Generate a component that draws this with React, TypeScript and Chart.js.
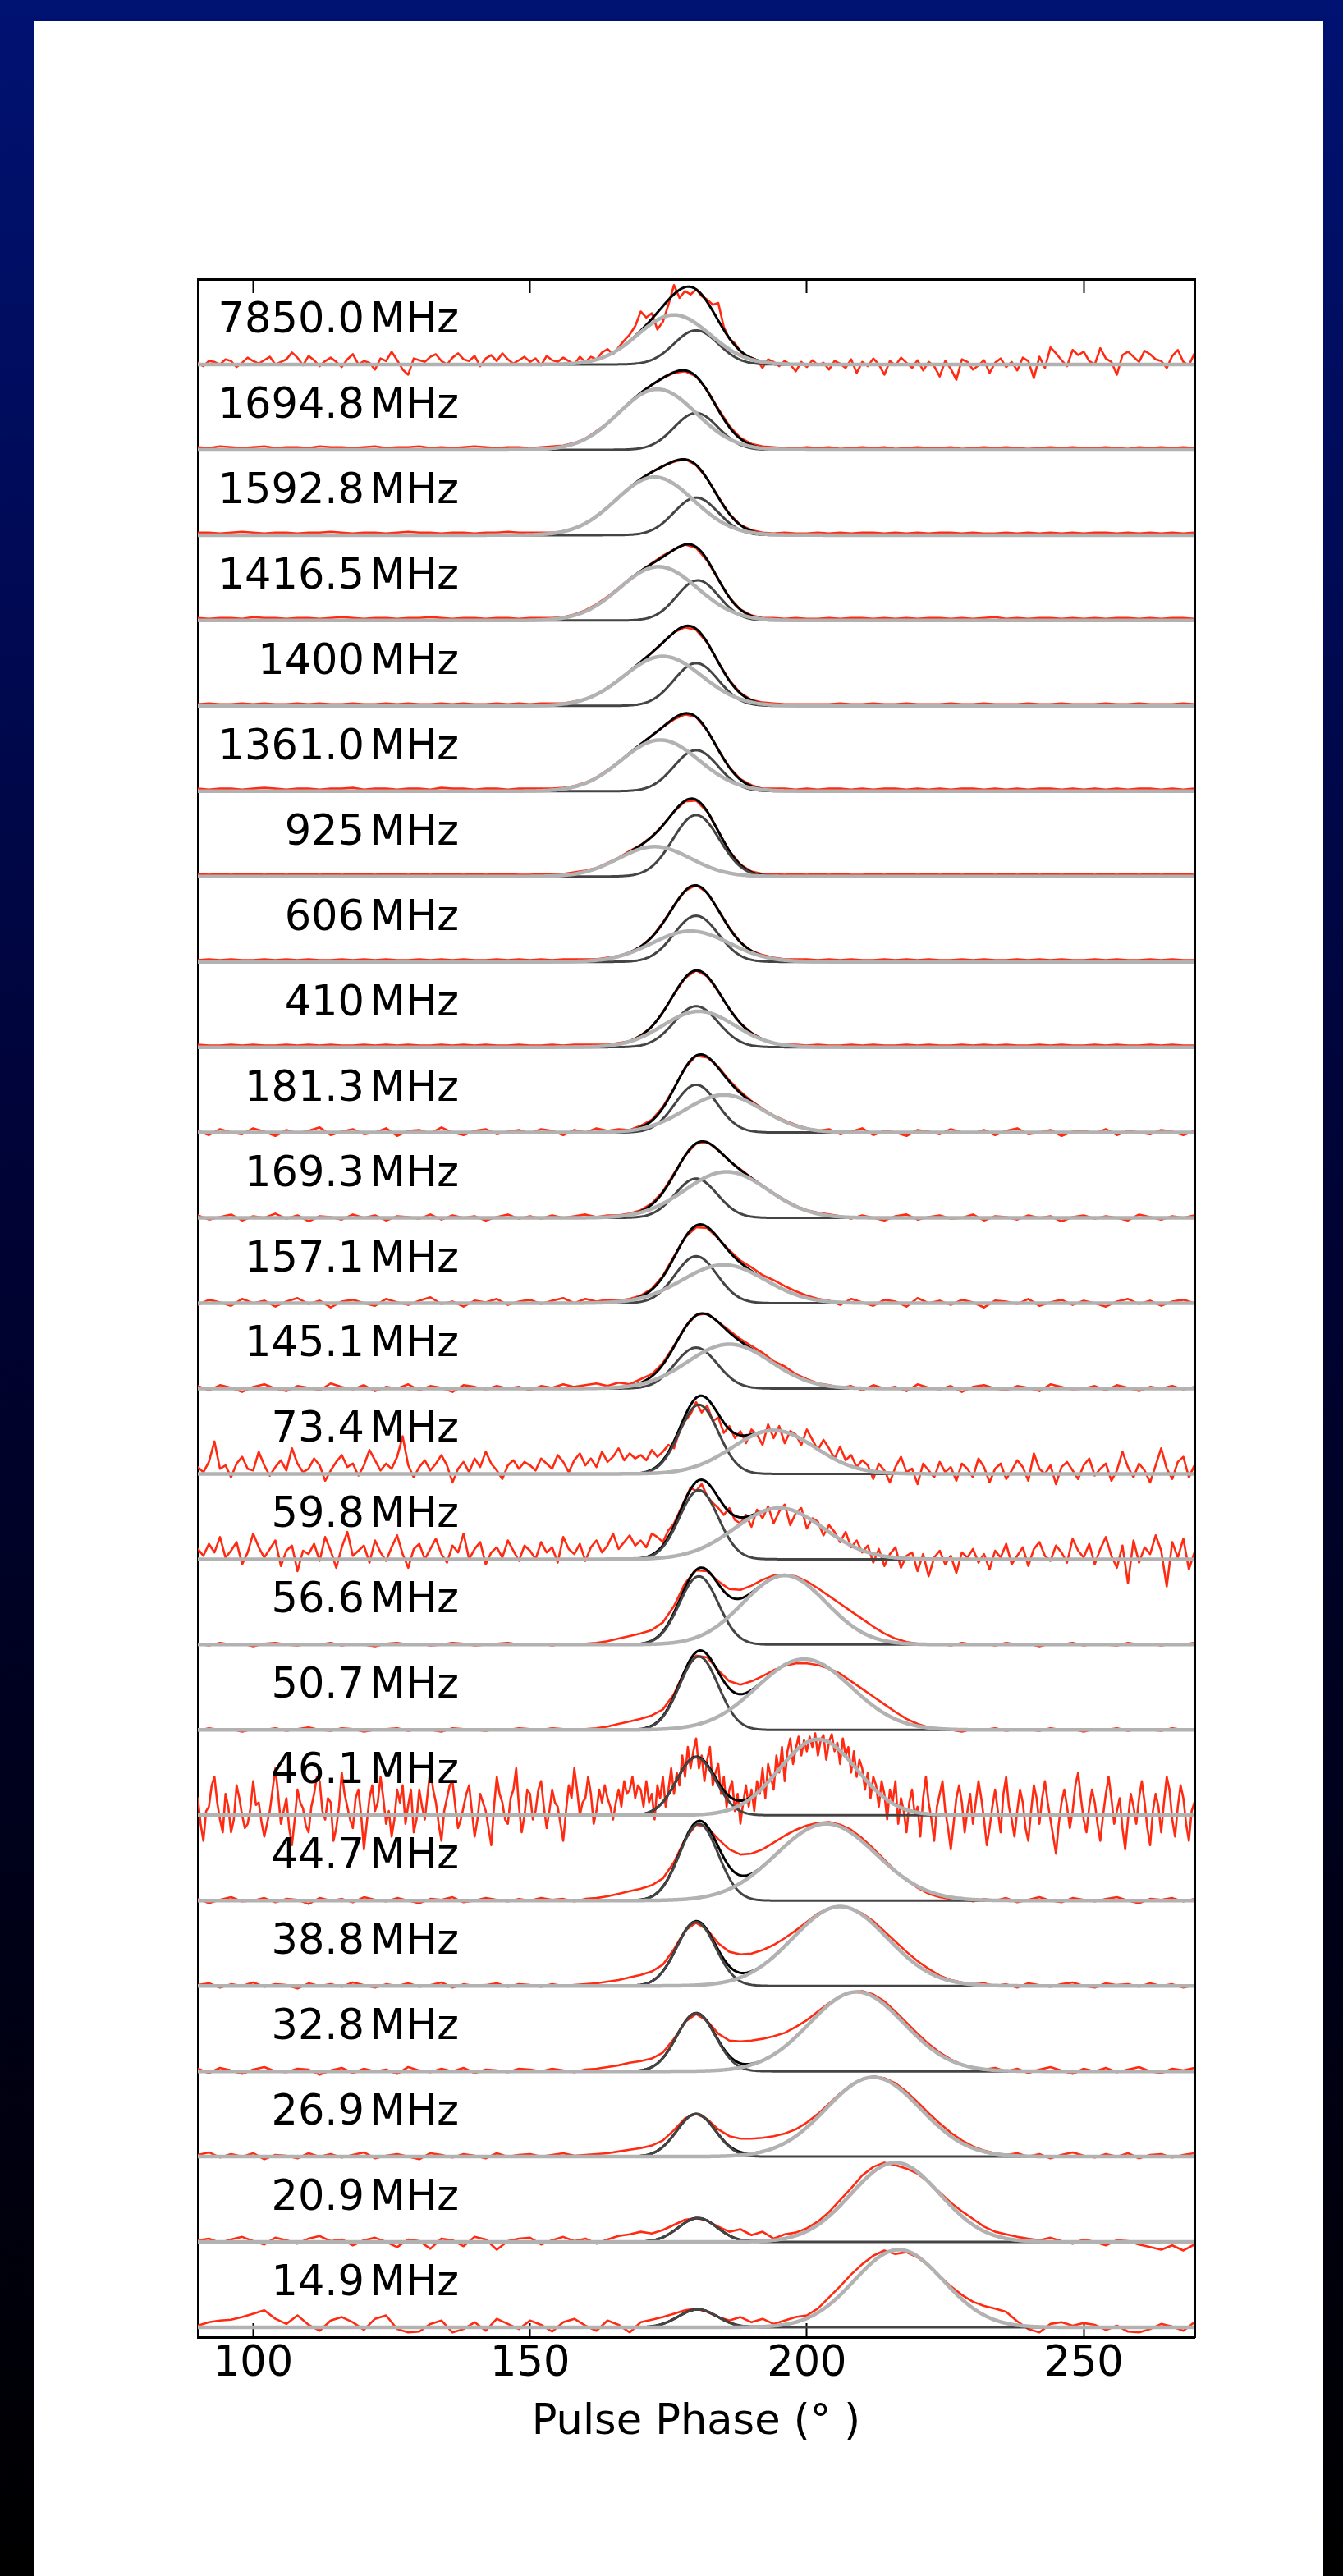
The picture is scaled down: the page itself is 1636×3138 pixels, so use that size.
import React, { useEffect, useRef } from 'react';
import { Chart, registerables } from 'chart.js';

Chart.register(...registerables);

// ---------- axis / labels ----------
const X_MIN = 90;
const X_MAX = 270;
const Y_MIN = -0.115;
const Y_MAX = 24;
const X_TICKS = [100, 150, 200, 250];
const X_TITLE = 'Pulse Phase (° )';

const FREQ_NUM = ['7850.0', '1694.8', '1592.8', '1416.5', '1400', '1361.0', '925', '606', '410', '181.3', '169.3', '157.1', '145.1', '73.4', '59.8', '56.6', '50.7', '46.1', '44.7', '38.8', '32.8', '26.9', '20.9', '14.9'];
const FREQ_UNIT = 'MHz';

// ---------- Gaussian fit components (amplitude in % of panel, centre deg, sigma deg) ----------
const COMP1_AMP = [40, 43, 44, 47, 50, 48, 72, 54, 48, 56, 46, 55, 48, 81, 81, 80, 86, 68, 90, 75, 68, 50, 28, 21];
const COMP1_CEN = [180, 180, 180, 180.3, 180, 180, 180, 180, 180, 180, 180, 180, 180, 180.5, 180.5, 180.5, 180.5, 180, 180.5, 180, 180, 180, 180.3, 180.3];
const COMP1_SIG = [4, 4, 4, 3.8, 4, 4, 4.2, 4, 4, 3.8, 3.8, 3.8, 3.8, 3.5, 3.5, 3.5, 3.5, 3.5, 3.5, 3.5, 3.5, 3.5, 3.5, 3.5];
const COMP2_AMP = [58, 71, 68, 63, 58, 60, 35, 36, 42, 44, 54, 45, 52, 51, 60, 81, 83, 89, 90, 93, 93, 93, 93, 91];
const COMP2_CEN = [176, 173, 172.5, 173.2, 174, 173.5, 172.5, 179, 180.5, 185, 185.5, 185, 186, 194, 195, 196, 199.5, 202, 203.5, 206, 209, 212, 216, 216.6];
const COMP2_SIG = [6.5, 7, 7, 7, 7, 7, 6.5, 7, 6.5, 7, 7.5, 7.5, 7.5, 7.5, 8, 7.5, 8.5, 7, 9, 8.5, 8.5, 8.5, 8, 8];

// ---------- observed profiles (% of panel height), evenly spaced from 90 to 270 deg ----------
const RED_7850_0 = [
  2, -2, 4, 3, 0, 6, 4, -3, 2, 8, 4, 1, 5, 9, 0, 3, 6, 14, 8, -1,
  10, 5, -2, 4, 8, 3, -3, 6, 12, 0, 4, 2, -6, 7, 4, 15, 5, -6, -12, 7,
  5, 3, 9, 12, 4, 0, 8, 13, 6, 4, 10, -2, 7, 11, 4, 13, 6, 1, 5, 9,
  3, 7, -1, 10, 5, 3, 8, 4, 0, 9, 3, 9, 6, 14, 18, 12, 20, 28, 35, 45,
  62, 55, 60, 41, 50, 70, 93, 78, 86, 82, 88, 80, 76, 70, 72, 44, 30, 25, 15, 10,
  8, 5, -4, 6, 3, -2, 4, 0, -8, 3, -3, 5, -1, 2, -6, 4, 1, -4, 6, -10,
  3, -2, 7, 0, -12, 4, -1, 8, 2, -4, 5, -7, 3, -2, -14, 4, -5, -18, 6, 3,
  -6, -1, 5, -10, 2, 7, -3, 3, -7, 8, 4, -16, 9, -4, 20, 13, 5, -2, 17, 11,
  15, 4, 0, 19, 7, 3, -12, 11, 15, 9, 3, 16, 12, 6, 4, -4, 10, 17, 3, -1,
  13,
];
const RED_1694_8 = [
  3, 2, 4, 3, 2, 3, 4, 2, 3, 3, 2, 4, 3, 3, 2, 3, 4, 2, 3, 3, 4, 2, 3, 2, 3, 4, 3, 2, 3, 3,
  2, 3, 4, 5, 8, 13, 22, 31, 43, 56, 66, 76, 84, 90, 92, 86, 70, 48, 28, 14, 7, 4, 3, 2, 2, 3,
  2, 3, 1, 2, 3, 2, 3, 1, 2, 3, 2, 2, 3, 1, 2, 3, 2, 3, 2, 1, 2, 3, 2, 3, 2, 2, 3, 2, 1, 3, 2, 3, 2, 3, 2,
];
const RED_1592_8 = [
  3, 3, 2, 3, 4, 3, 2, 3, 3, 2, 3, 3, 4, 3, 2, 3, 3, 2, 3, 4, 3, 3, 2, 3, 3, 2, 3, 3, 4, 3,
  3, 3, 3, 4, 8, 14, 22, 33, 44, 55, 66, 74, 81, 86, 89, 82, 66, 45, 25, 12, 6, 3, 2, 3, 2, 2,
  3, 2, 3, 2, 3, 3, 2, 3, 2, 3, 2, 3, 3, 2, 3, 2, 2, 3, 2, 3, 2, 3, 2, 3, 2, 3, 3, 2, 3, 2, 3, 2, 3, 2, 3,
];
const RED_1416_5 = [
  3, 2, 3, 3, 2, 4, 3, 3, 2, 3, 3, 2, 3, 4, 3, 2, 3, 3, 2, 3, 3, 4, 3, 2, 3, 3, 2, 3, 3, 2,
  3, 3, 3, 4, 7, 12, 19, 28, 38, 49, 58, 67, 76, 83, 89, 85, 70, 48, 27, 13, 6, 3, 3, 2, 3, 2,
  2, 3, 2, 3, 3, 2, 3, 2, 3, 2, 3, 3, 2, 3, 2, 3, 4, 2, 3, 2, 3, 3, 2, 3, 2, 3, 2, 3, 3, 2, 3, 2, 3, 3, 2,
];
const RED_1400 = [
  2, 3, 2, 2, 3, 2, 3, 2, 2, 3, 2, 3, 2, 2, 3, 2, 2, 3, 2, 3, 2, 2, 3, 2, 3, 2, 2, 3, 2, 3,
  2, 3, 3, 3, 5, 8, 13, 21, 30, 40, 51, 62, 74, 86, 92, 89, 74, 51, 30, 15, 7, 4, 3, 2, 2, 2,
  2, 2, 3, 2, 2, 3, 2, 2, 3, 2, 2, 2, 3, 2, 2, 3, 2, 2, 2, 3, 2, 2, 3, 2, 2, 2, 3, 2, 2, 3, 2, 2, 2, 3, 2,
];
const RED_1361_0 = [
  3, 2, 3, 3, 2, 3, 4, 3, 2, 3, 3, 2, 3, 3, 4, 2, 3, 3, 2, 3, 3, 2, 4, 3, 3, 2, 3, 3, 2, 3,
  3, 3, 3, 4, 6, 10, 16, 25, 34, 45, 55, 65, 75, 84, 90, 87, 71, 49, 28, 14, 7, 3, 3, 3, 2, 3,
  2, 3, 3, 2, 3, 2, 3, 3, 2, 3, 2, 3, 2, 3, 3, 2, 3, 2, 3, 2, 3, 3, 2, 3, 2, 3, 2, 3, 2, 3, 3, 2, 3, 2, 3,
];
const RED_925 = [
  3, 2, 3, 2, 3, 3, 2, 3, 2, 3, 3, 2, 3, 2, 3, 3, 2, 3, 3, 2, 3, 2, 3, 3, 2, 3, 2, 3, 3, 2,
  2, 3, 3, 3, 5, 7, 10, 16, 22, 30, 37, 47, 60, 76, 88, 89, 76, 53, 30, 14, 6, 3, 3, 2, 3, 2,
  3, 2, 3, 2, 2, 3, 2, 3, 3, 2, 3, 2, 3, 2, 3, 3, 2, 3, 2, 3, 2, 3, 2, 3, 3, 2, 3, 2, 3, 2, 3, 2, 3, 3, 2,
];
const RED_606 = [
  2, 3, 2, 3, 2, 2, 3, 2, 3, 2, 3, 2, 2, 3, 2, 3, 2, 3, 2, 2, 3, 2, 3, 2, 3, 2, 2, 3, 2, 3,
  2, 3, 2, 3, 3, 3, 3, 5, 7, 11, 18, 29, 46, 66, 83, 90, 81, 61, 40, 23, 13, 8, 5, 3, 3, 3,
  2, 3, 2, 3, 2, 2, 3, 2, 3, 2, 3, 2, 2, 3, 2, 3, 2, 2, 3, 2, 3, 2, 3, 2, 2, 3, 2, 3, 2, 2, 3, 2, 3, 2, 2,
];
const RED_410 = [
  3, 2, 2, 3, 2, 3, 2, 2, 3, 2, 3, 2, 3, 2, 2, 3, 2, 3, 2, 3, 2, 2, 3, 2, 3, 2, 3, 2, 2, 3,
  2, 2, 3, 2, 3, 3, 3, 3, 5, 7, 14, 24, 41, 62, 81, 90, 83, 65, 45, 28, 17, 9, 5, 3, 3, 2,
  3, 2, 2, 3, 2, 3, 2, 2, 3, 2, 3, 2, 2, 3, 2, 3, 2, 3, 2, 2, 3, 2, 3, 2, 2, 3, 2, 3, 2, 2, 3, 2, 3, 2, 2,
];
const RED_181_3 = [
  2, -3, 4, 0, -2, 5, 1, -4, 3, -1, 2, 6, -3, 1, 4, -2, 0, 5, -4, 2, 3, -1, 6, 0, -3, 2, 4, -2, 1, 3,
  -1, 4, 2, -3, 3, 0, 5, 2, 4, 3, 8, 15, 30, 52, 76, 90, 88, 77, 61, 48, 37, 28, 20, 14, 9, 5,
  2, 4, -2, 1, 5, -3, 2, 0, -4, 3, 1, -2, 4, 0, -1, 3, -3, 2, 5, -2, 0, 3, -4, 1, 2, -1, 4, -3, 2, 0, -2, 3, 1, -3, 2,
];
const RED_169_3 = [
  3, -2, 1, 4, -3, 2, 0, 5, -1, 3, -4, 2, 1, -2, 4, 0, 3, -3, 2, 1, -1, 4, -2, 3, 0, 2, -3, 1, 4, -1,
  2, -1, 3, 0, 2, 4, 1, 3, 3, 5, 9, 17, 31, 52, 73, 87, 89, 79, 67, 57, 47, 38, 29, 21, 14, 9,
  6, 4, 2, -1, 3, 0, -3, 2, 4, -2, 1, 3, -1, 0, 4, -3, 2, 1, -2, 3, 0, 2, -4, 1, 3, -1, 2, 0, -3, 4, 1, -2, 2, 0, 3,
];
const RED_157_1 = [
  -2, 4, 1, -3, 5, 0, 3, -4, 2, 6, -1, 3, -5, 2, 4, 0, -3, 5, 1, -2, 3, 7, -1, 2, -4, 3, 1, 5, -2, 2,
  4, -1, 3, 6, 0, 5, 2, 4, 3, 5, 9, 17, 32, 55, 77, 89, 88, 76, 62, 50, 42, 33, 27, 20, 14, 9,
  5, 3, -2, 5, 1, -3, 4, 2, -4, 6, 0, 3, -2, 4, 1, -5, 3, 2, -1, 5, -3, 1, 4, -2, 3, 0, -4, 2, 5, -1, 3, -3, 2, 4, 0,
];
const RED_145_1 = [
  3, -2, 4, 1, -4, 2, 5, 0, -3, 3, 1, -2, 6, 2, -1, 4, -3, 2, 0, 5, -2, 3, 1, -4, 4, 2, -1, 3, 0, 2,
  -2, 3, 1, 5, 2, 4, 6, 3, 7, 5, 11, 17, 30, 50, 72, 86, 88, 78, 68, 58, 50, 42, 32, 26, 17, 11,
  6, 4, 1, 3, -2, 4, 0, 2, -3, 5, 1, -1, 3, -4, 2, 4, 0, -2, 3, 1, -3, 5, 2, -1, 0, 3, -2, 4, 1, -3, 2, 0, 3, -1, 2,
];
const RED_73_4 = [
  8, 2, 14, 38, 6, 10, -4, 12, 20, 6, 4, 26, 10, -2, 8, 16, 4, 30, 12, 2,
  6, 18, 10, -8, 4, 14, 22, 8, 12, -2, 10, 28, 16, 4, 12, 6, 20, 44, 10, -4,
  8, 16, 4, 12, 22, 10, -10, 6, 14, 2, 18, 8, 26, 12, 4, -6, 10, 16, 6, 14,
  10, 4, 18, 12, 6, 22, 14, 2, 16, 24, 10, 18, 8, 26, 14, 20, 30, 16, 24, 18,
  22, 16, 28, 20, 26, 34, 30, 50, 62, 70, 84, 72, 80, 62, 66, 48, 56, 42, 50, 36,
  52, 46, 34, 58, 42, 56, 36, 50, 46, 34, 52, 40, 28, 40, 30, 18, 32, 16, 22, 8,
  16, 10, -6, 12, 4, -10, 8, 20, 2, 6, -12, 12, 4, -4, 14, 2, 8, -8, 12, 6,
  -4, 18, 8, -10, 6, 12, -6, 4, 16, 8, -8, 24, 6, 0, 10, -12, 8, 14, 4, -6,
  10, 18, -2, 6, 12, -8, 4, 26, 8, -4, 12, 4, -10, 10, 30, 6, -6, 14, 20, -4,
  10,
];
const RED_59_8 = [
  12, 4, 18, 8, 26, 2, 10, 20, -6, 8, 30, 14, 2, 12, 22, -8, 10, 16, -14, 10,
  6, 18, -2, 26, 10, -10, 14, 32, 4, 10, 16, -4, 22, 8, -2, 14, 28, 6, -10, 12,
  18, 0, 12, 24, 6, -4, 16, 8, 30, 0, 12, 20, -6, 8, 14, 2, 22, 10, -2, 16,
  10, 0, 20, 8, 14, -4, 26, 12, 6, 18, -2, 14, 22, 8, 16, 30, 12, 20, 28, 16,
  22, 14, 30, 26, 20, 34, 42, 56, 70, 84, 80, 88, 74, 66, 60, 52, 60, 46, 42, 52,
  38, 58, 48, 62, 42, 56, 64, 40, 54, 60, 36, 48, 44, 28, 40, 32, 20, 32, 14, 22,
  8, 16, -4, 12, -8, 6, 14, -10, 4, 8, -14, 6, -20, 2, 10, -6, 4, -16, 8, 2,
  12, -4, 6, -12, 10, 2, 18, -6, 4, 14, -8, 12, 20, 4, -2, 16, 8, -4, 24, 10,
  2, 18, -6, 12, 26, 4, -10, 16, -28, 22, -4, 14, 6, 28, 10, -32, 20, 2, 24, -12,
  8,
];
const RED_56_6 = [
  1, -1, 2, 0, 1, -2, 1, 2, 0, -1, 1, 0, 2, -1, 1, 0, -2, 1, 2, 0, 1, -1, 0, 2, 1, -1, 0, 1, 2, 0,
  0, 1, -1, 1, 0, 1, 2, 4, 7, 10, 13, 17, 26, 45, 72, 87, 86, 74, 65, 64, 69, 76, 81, 82, 80, 74,
  66, 57, 48, 39, 30, 21, 13, 7, 3, 1, 0, 1, -1, 2, 0, 1, -1, 2, 0, 1, -2, 1, 0, 2, -1, 1, 0, -1, 2, 0, 1, -1, 1, 0, 2,
];
const RED_50_7 = [
  -1, 2, 0, 1, -2, 1, 0, 2, -1, 1, 3, 0, -1, 2, 1, -2, 0, 1, 2, -1, 1, 0, -2, 2, 1, 0, -1, 1, 0, 2,
  1, 0, 2, 1, 0, 1, 2, 4, 7, 10, 13, 17, 24, 42, 70, 87, 85, 70, 57, 53, 57, 63, 70, 75, 78, 78,
  76, 72, 66, 57, 48, 39, 30, 21, 13, 7, 3, 1, 0, -2, 1, 0, 2, -1, 1, 0, -1, 2, 0, 1, -2, 1, 0, 2, -1, 1, 0, -1, 2, 0, 1,
];
// 46.1 MHz sampled every 0.5 deg
const RED_46_1 = [
  20, -10, -30, 5, 10, 35, 45, 15, -5, -20, 25, 10, -20, -5, 35, 20, 0, -15, -10, 8,
  40, 12, 15, -8, -25, -10, 5, 30, 55, 25, -10, 5, 20, -15, -35, -5, 30, 15, 8, -12,
  -20, 10, 25, 45, 40, 5, -5, 20, 15, -30, -15, 10, 50, 25, 10, -5, -15, 20, 30, 0,
  -40, -10, 20, 35, 5, 15, 45, 20, -10, 5, -25, -5, 30, 15, 35, -10, 12, 30, -20, -5,
  30, 10, -5, 25, 55, 30, 15, -10, -30, 5, 20, 35, 40, 10, -15, -5, 10, 25, 35, 5,
  -25, -5, 25, 15, 5, -15, -35, 10, 45, 25, 15, -5, -10, 20, 30, 55, 10, -20, 0, 30,
  25, -5, 5, 30, 40, 10, -15, 5, 30, 15, 10, -10, -30, 5, 35, 20, 55, 30, 0, 15,
  20, 45, 25, -10, 5, 30, 15, 35, 20, 10, -5, 15, 30, 10, 40, 25, 30, 45, 20, 35,
  30, 10, 40, 15, 25, -5, 35, 20, 45, 10, 30, 55, 25, 50, 35, 70, 45, 80, 55, 75,
  90, 55, 70, 40, 65, 80, 35, 50, 60, 25, 45, 10, 30, 40, 5, 25, -10, 15, 35, 10,
  30, 5, 40, 25, 55, 20, 60, 45, 30, 70, 50, 80, 40, 75, 90, 60, 78, 92, 70, 88,
  75, 92, 80, 96, 70, 88, 94, 65, 86, 95, 75, 85, 60, 90, 70, 80, 50, 75, 45, 65,
  55, 30, 50, 20, 45, 35, 10, 40, 25, -5, 30, 15, 40, -10, 20, 5, -20, 15, 30, 0,
  10, -25, 20, 45, 15, -5, -30, 10, 25, 40, 5, -15, -40, -10, 20, 35, 15, -20, 5, 25,
  -10, 15, 40, 20, -5, -35, -15, 10, 30, 5, -20, 25, 45, 10, -5, -25, 5, 30, 15, -15,
  -30, 5, 35, 20, -10, 20, 40, 15, -5, -25, -45, -10, 15, 30, 10, -15, 5, 35, 50, 20,
  -5, -20, 10, 30, 15, -10, -30, 0, 25, 45, 20, -10, 5, 20, -15, -40, -5, 25, 10, -10,
  20, 40, 15, -15, -35, 5, 25, 10, -20, 15, 45, 30, -5, -25, 10, 35, 20, -10, -30, 5,
  15,
];
const RED_44_7 = [
  2, -3, 1, 4, -1, 0, 3, -2, 2, 1, -4, 3, 0, 2, -2, 4, 1, -1, 3, 0, -3, 2, 1, 4, -2, 0, 3, 1, -1, 2,
  0, 3, 1, 2, -1, 2, 3, 5, 8, 11, 14, 18, 26, 45, 72, 89, 86, 72, 60, 54, 55, 60, 68, 76, 83, 88,
  91, 92, 89, 83, 73, 61, 48, 35, 24, 15, 8, 4, 2, 3, -1, 2, 0, 3, -2, 1, 4, 0, -2, 3, 1, -1, 2, 4, 0, -3, 2, 1, 3, -1, 2,
];
const RED_38_8 = [
  1, 3, -2, 2, 0, 4, -1, 2, 1, -3, 3, 0, 2, -1, 4, 1, -2, 2, 0, 3, -1, 1, 4, -2, 2, 0, 1, 3, -1, 2,
  1, -1, 2, 0, 1, 2, 3, 5, 7, 10, 13, 17, 25, 43, 65, 74, 66, 50, 40, 37, 38, 42, 48, 56, 65, 75,
  85, 91, 93, 91, 85, 76, 64, 52, 40, 29, 20, 12, 7, 4, 2, 3, 0, 2, -2, 3, 1, -1, 2, 4, 0, -2, 3, 1, 2, -1, 3, 0, 2, -2, 1,
];
const RED_32_8 = [
  3, -2, 4, 1, -3, 2, 5, 0, -1, 3, 2, -4, 1, 4, -2, 3, 0, 2, -3, 5, 1, -1, 3, 0, 4, -2, 2, 1, -1, 3,
  2, 0, 3, 1, -1, 2, 3, 5, 7, 10, 12, 15, 22, 38, 58, 67, 59, 44, 36, 35, 36, 38, 41, 45, 52, 60,
  70, 80, 88, 93, 94, 90, 82, 70, 57, 44, 32, 22, 14, 8, 4, 2, 4, 0, 3, -2, 2, 5, 1, -3, 3, 0, 4, -1, 2, 5, 0, -2, 3, 1, 4,
];
const RED_26_9 = [
  2, 5, -1, 3, 0, 4, -3, 2, 1, -2, 4, 0, 3, -1, 2, 5, -2, 1, 3, 0, -3, 4, 2, -1, 3, 1, -2, 4, 0, 2,
  3, 0, 2, 4, 1, 2, 3, 4, 6, 8, 10, 13, 19, 31, 45, 50, 44, 32, 24, 21, 21, 22, 24, 27, 32, 40,
  50, 62, 74, 84, 91, 94, 92, 86, 76, 64, 51, 39, 28, 19, 12, 7, 4, 2, 4, 0, 3, -2, 2, 5, 1, -1, 3, 0, 4, -2, 2, 3, -1, 2, 4,
];
const RED_20_9 = [
  2, 4, -1, 3, 6, 1, -3, 5, 2, -2, 4, 7, 1, 3, -4, 2, 5, 0, -6, 3, 1, -8, 4, 2, -5, 6, 3, -9, 1, 4,
  5, -3, 2, 6, 1, 4, -2, 3, 7, 9, 12, 10, 14, 20, 26, 28, 25, 18, 12, 15, 8, 12, 4, 9, 11, 16,
  24, 35, 49, 63, 78, 88, 93, 90, 86, 80, 70, 58, 46, 36, 27, 18, 12, 9, 6, 4, 2, 5, 1, -2, 3, 0, -4, 2, 1, -3, -6, -9, -4, -10, -3,
];
const RED_14_9 = [
  2, 6, 8, 9, 12, 16, 20, 10, 4, 14, 3, -4, 8, 12, 6, -3, 10, 14, -2, -6, -5, 4, 8, -6, -2, 6, -4, 10, 4, -2,
  8, 3, -5, 6, 10, 2, -4, 8, 3, -6, 6, 9, 12, 16, 20, 22, 18, 12, 8, 12, 6, 10, 4, 8, 12, 14,
  22, 35, 48, 62, 74, 84, 90, 86, 88, 82, 72, 60, 48, 38, 30, 25, 22, 18, 7, -2, -6, 4, 6, 2, 5, 3, -3, 2, -5, -6, -2, 4, 1, -4, 6,
];

const RED_SERIES = [
  RED_7850_0, RED_1694_8, RED_1592_8, RED_1416_5, RED_1400, RED_1361_0, RED_925, RED_606, RED_410,
  RED_181_3, RED_169_3, RED_157_1, RED_145_1, RED_73_4, RED_59_8, RED_56_6, RED_50_7, RED_46_1,
  RED_44_7, RED_38_8, RED_32_8, RED_26_9, RED_20_9, RED_14_9,
];

// ---------- styles ----------
const RED_COLOR = '#ff2a12';
const FIT_COLOR = '#000000';
const C1_COLOR = '#444444';
const C2_COLOR = '#b2b2b2';
const FONT = 'DejaVu Sans';
const LABEL_OFFSET = 0.375;

function gaussFrac(x: number, a: number, c: number, s: number) {
  return (a / 100) * Math.exp(-((x - c) * (x - c)) / (2 * s * s));
}

const labelPlugin = {
  id: 'freqLabels',
  afterDatasetsDraw(chart: any) {
    const ctx = chart.ctx;
    const ys = chart.scales.y;
    const left = chart.chartArea.left;
    const n = FREQ_NUM.length;
    ctx.save();
    ctx.font = `51px "${FONT}"`;
    ctx.fillStyle = '#000';
    ctx.textBaseline = 'alphabetic';
    FREQ_NUM.forEach((f, k) => {
      const py = ys.getPixelForValue(n - 1 - k + LABEL_OFFSET);
      ctx.textAlign = 'right';
      ctx.fillText(f, left + 203, py);
      ctx.textAlign = 'left';
      ctx.fillText(FREQ_UNIT, left + 209, py);
    });
    ctx.restore();
  },
};

export default function App() {
  const canvasRef = useRef<HTMLCanvasElement | null>(null);

  useEffect(() => {
    const canvas = canvasRef.current;
    if (!canvas) return;
    const n = FREQ_NUM.length;
    const fitX: number[] = [];
    for (let i = 0; i <= (X_MAX - X_MIN) * 4; i++) fitX.push(X_MIN + i / 4);

    const common = {
      type: 'line',
      pointRadius: 0,
      pointHoverRadius: 0,
      tension: 0,
      fill: false,
      parsing: false,
      normalized: true,
      spanGaps: true,
      borderJoinStyle: 'round',
      borderCapStyle: 'round',
      xAxisID: 'x',
      yAxisID: 'y',
    };

    const datasets: any[] = [];
    for (let k = 0; k < n; k++) {
      const base = n - 1 - k;
      const red = RED_SERIES[k];
      const step = (X_MAX - X_MIN) / (red.length - 1);
      datasets.push({
        ...common,
        label: FREQ_NUM[k] + ' data',
        data: red.map((v, i) => ({ x: X_MIN + i * step, y: base + v / 100 })),
        borderColor: RED_COLOR,
        borderWidth: 2.6,
        order: 4,
      });
      const c1 = fitX.map((x) => gaussFrac(x, COMP1_AMP[k], COMP1_CEN[k], COMP1_SIG[k]));
      const c2 = fitX.map((x) => gaussFrac(x, COMP2_AMP[k], COMP2_CEN[k], COMP2_SIG[k]));
      datasets.push({
        ...common,
        label: FREQ_NUM[k] + ' fit',
        data: fitX.map((x, i) => ({ x, y: base + c1[i] + c2[i] })),
        borderColor: FIT_COLOR,
        borderWidth: 3,
        order: 3,
      });
      datasets.push({
        ...common,
        label: FREQ_NUM[k] + ' comp1',
        data: fitX.map((x, i) => ({ x, y: base + c1[i] })),
        borderColor: C1_COLOR,
        borderWidth: 3,
        order: 2,
      });
      datasets.push({
        ...common,
        label: FREQ_NUM[k] + ' comp2',
        data: fitX.map((x, i) => ({ x, y: base + c2[i] })),
        borderColor: C2_COLOR,
        borderWidth: 4.5,
        order: 1,
      });
    }

    const setTicks = (s: any) => {
      s.ticks = X_TICKS.map((v) => ({ value: v }));
    };
    const tickGrid = {
      display: true,
      drawOnChartArea: false,
      drawTicks: true,
      tickLength: -17,
      tickColor: '#000',
      tickWidth: 2,
      color: '#000',
    };
    const border = { display: true, color: '#000', width: 3 };

    const chart = new Chart(canvas, {
      type: 'line',
      data: { datasets },
      options: {
        responsive: false,
        maintainAspectRatio: false,
        devicePixelRatio: 1,
        animation: false,
        events: [],
        layout: { padding: { left: 241, right: 181, top: 340, bottom: 156 } },
        plugins: {
          legend: { display: false },
          tooltip: { enabled: false },
          title: { display: false },
        },
        scales: {
          x: {
            type: 'linear',
            axis: 'x',
            position: 'bottom',
            min: X_MIN,
            max: X_MAX,
            afterBuildTicks: setTicks,
            afterFit: (s: any) => {
              s.height = 135;
            },
            ticks: {
              color: '#000',
              font: { family: FONT, size: 51 },
              padding: 20,
              maxRotation: 0,
              autoSkip: false,
            },
            grid: tickGrid,
            border,
            title: {
              display: true,
              text: X_TITLE,
              color: '#000',
              font: { family: FONT, size: 51 },
              padding: 0,
            },
          },
          x2: {
            type: 'linear',
            axis: 'x',
            position: 'top',
            min: X_MIN,
            max: X_MAX,
            afterBuildTicks: setTicks,
            afterFit: (s: any) => {
              s.height = 0;
            },
            ticks: { display: false },
            grid: tickGrid,
            border,
          },
          y: {
            type: 'linear',
            axis: 'y',
            position: 'left',
            min: Y_MIN,
            max: Y_MAX,
            afterFit: (s: any) => {
              s.width = 0;
            },
            ticks: { display: false },
            grid: { display: false },
            border,
          },
          y2: {
            type: 'linear',
            axis: 'y',
            position: 'right',
            min: Y_MIN,
            max: Y_MAX,
            afterFit: (s: any) => {
              s.width = 0;
            },
            ticks: { display: false },
            grid: { display: false },
            border,
          },
        },
      } as any,
      plugins: [labelPlugin],
    } as any);

    return () => chart.destroy();
  }, []);

  return (
    <div
      style={{
        position: 'absolute',
        left: 0,
        top: 0,
        width: 1636,
        height: 3138,
        overflow: 'hidden',
        background:
          'linear-gradient(to bottom, #001272 0%, #000a55 22%, #000335 46%, #00011a 72%, #000000 100%)',
      }}
    >
      <div style={{ position: 'absolute', left: 42, top: 25, width: 1570, height: 3113, background: '#ffffff' }} />
      <canvas
        ref={canvasRef}
        width={1636}
        height={3138}
        style={{ position: 'absolute', left: 0, top: 0 }}
      />
    </div>
  );
}
